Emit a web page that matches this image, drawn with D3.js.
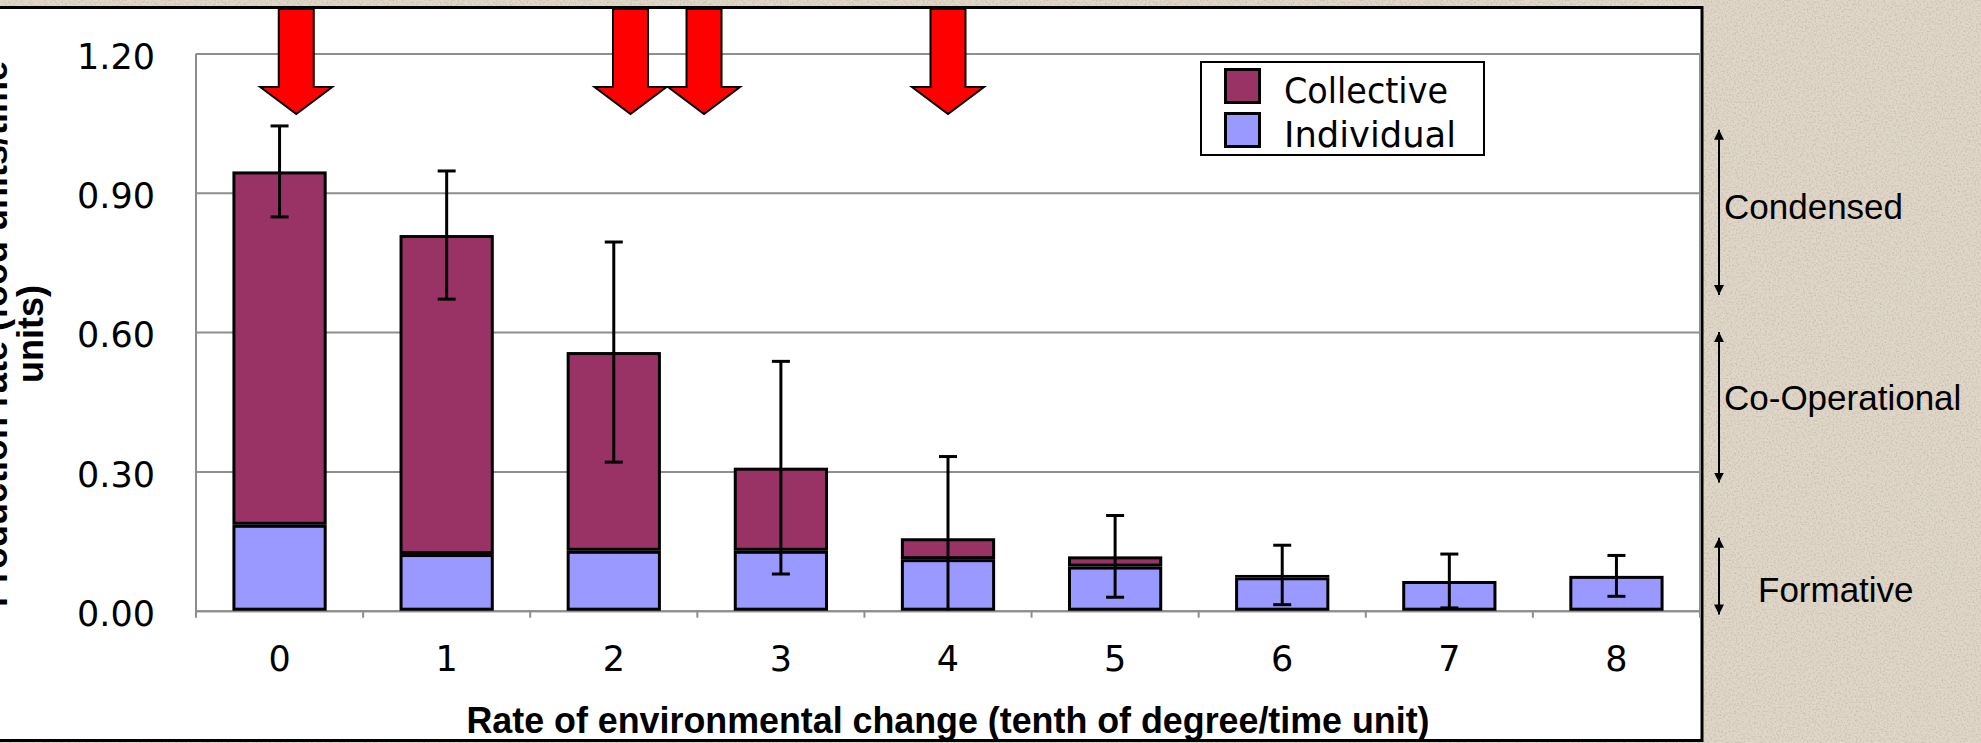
<!DOCTYPE html>
<html>
<head>
<meta charset="utf-8">
<script src="https://cdn.jsdelivr.net/npm/d3@7"></script>
<style>
  html, body { margin: 0; padding: 0; background: #ded5c6; }
  svg { display: block; }
</style>
</head>
<body>
<svg id="chart" width="1981" height="743"></svg>
<script>
// ---- data ----
const categories = ["0", "1", "2", "3", "4", "5", "6", "7", "8"];
const individual = [0.185, 0.122, 0.129, 0.129, 0.111, 0.095, 0.072, 0.064, 0.075];
const collective = [0.761, 0.687, 0.428, 0.179, 0.045, 0.022, 0.005, 0.000, 0.000];
const errorHalf  = [0.098, 0.138, 0.237, 0.229, 0.176, 0.088, 0.064, 0.058, 0.044];
const yTicks = [0.00, 0.30, 0.60, 0.90, 1.20];
const seriesNames = ["Collective", "Individual"];
const seriesColors = ["#993366", "#9999FF"];
const arrowPositions = [0.1, 2.1, 2.54, 4.0];        // in category units
const stageLabels = ["Condensed", "Co-Operational", "Formative"];
const stageTop    = [1.036, 0.600, 0.157];
const stageBottom = [0.680, 0.276, -0.008];
const xTitle = "Rate of environmental change (tenth of degree/time unit)";
const yTitleLines = ["Production rate (food units/time", "units)"];

// ---- layout ----
const svg = d3.select("#chart");
const plotLeft = 196, plotRight = 1700, plotTop = 53.5, plotBottom = 610.7;

const x = d3.scaleBand().domain(categories).range([plotLeft, plotRight])
  .paddingInner(0.436).paddingOuter(0.218);
const y = d3.scaleLinear().domain([0, 1.2]).range([plotBottom, plotTop]);
const xc = v => x(categories[0]) + x.bandwidth() / 2 + v * x.step();

const defs = svg.append("defs");

// textured beige background (paper-like speckle)
const tex = defs.append("filter").attr("id", "paper").attr("x", 0).attr("y", 0)
  .attr("width", "100%").attr("height", "100%");
tex.append("feTurbulence").attr("type", "fractalNoise").attr("baseFrequency", 0.55)
  .attr("numOctaves", 2).attr("seed", 3).attr("result", "noise");
tex.append("feColorMatrix").attr("in", "noise").attr("type", "matrix")
  .attr("values", "0 0 0 0 0.55  0 0 0 0 0.5  0 0 0 0 0.42  0 0 0 -2.2 1.25")
  .attr("result", "speck");
tex.append("feComposite").attr("in", "speck").attr("in2", "SourceGraphic").attr("operator", "atop");
svg.append("rect").attr("width", 1981).attr("height", 743).attr("fill", "#e0d7c8")
  .attr("filter", "url(#paper)");

// white chart area
svg.append("rect").attr("x", -10).attr("y", 7.5).attr("width", 1712).attr("height", 733)
  .attr("fill", "#fff").attr("stroke", "#000").attr("stroke-width", 3);

const gridColor = "#8e8e8e";

// y axis with gridlines
const yAxis = svg.append("g").attr("transform", `translate(${plotLeft},0)`)
  .call(d3.axisLeft(y).tickValues(yTicks).tickFormat(d3.format(".2f"))
    .tickSize(-(plotRight - plotLeft)).tickPadding(41));
yAxis.select(".domain").remove();
yAxis.selectAll(".tick line").attr("stroke", gridColor).attr("stroke-width", 2);
yAxis.selectAll(".tick text").attr("fill", "#000").attr("dy", "0.42em")
  .style("font-family", "'DejaVu Sans', Verdana, sans-serif").style("font-size", "35px");

// plot border: left, right
svg.append("line").attr("x1", plotLeft).attr("x2", plotLeft).attr("y1", plotTop).attr("y2", plotBottom + 1)
  .attr("stroke", gridColor).attr("stroke-width", 2);
svg.append("line").attr("x1", plotRight).attr("x2", plotRight).attr("y1", plotTop).attr("y2", plotBottom + 1)
  .attr("stroke", gridColor).attr("stroke-width", 2);

// x axis labels
const xAxis = svg.append("g").attr("transform", `translate(0,${plotBottom})`)
  .call(d3.axisBottom(x).tickSize(0).tickPadding(35));
xAxis.select(".domain").attr("stroke", gridColor).attr("stroke-width", 2);
xAxis.selectAll(".tick text").attr("fill", "#000")
  .style("font-family", "'DejaVu Sans', Verdana, sans-serif").style("font-size", "35px");

// x tick marks at category boundaries
svg.append("g").selectAll("line").data(d3.range(categories.length + 1)).join("line")
  .attr("x1", i => plotLeft + i * x.step()).attr("x2", i => plotLeft + i * x.step())
  .attr("y1", plotBottom).attr("y2", plotBottom + 7)
  .attr("stroke", gridColor).attr("stroke-width", 2);

// stacked bars (Individual bottom, Collective top), borders drawn inside
const rows = categories.map((c, i) => ({ c, Individual: individual[i], Collective: collective[i] }));
const stack = d3.stack().keys(["Individual", "Collective"])(rows);
const sw = 3;
const barG = svg.append("g");
stack.forEach(layer => {
  const color = layer.key === "Collective" ? seriesColors[0] : seriesColors[1];
  layer.forEach((seg, i) => {
    const x0 = x(categories[i]);
    const yTop = y(seg[1]), yBot = y(seg[0]);
    const h = yBot - yTop;
    if (h <= 0.01) return;
    if (h < sw * 2) {
      barG.append("rect").attr("x", x0).attr("y", yTop).attr("width", x.bandwidth())
        .attr("height", h).attr("fill", "#000");
    } else {
      barG.append("rect").attr("x", x0 + sw / 2).attr("y", yTop + sw / 2)
        .attr("width", x.bandwidth() - sw).attr("height", h - sw)
        .attr("fill", color).attr("stroke", "#000").attr("stroke-width", sw);
    }
  });
});

// error bars
const totals = categories.map((c, i) => individual[i] + collective[i]);
const errG = svg.append("g").attr("stroke", "#000").attr("stroke-width", 3);
categories.forEach((c, i) => {
  const cx = x(c) + x.bandwidth() / 2;
  const hi = totals[i] + errorHalf[i];
  const lo = Math.max(0, totals[i] - errorHalf[i]);
  errG.append("line").attr("x1", cx).attr("x2", cx).attr("y1", y(hi)).attr("y2", y(lo));
  errG.append("line").attr("x1", cx - 9).attr("x2", cx + 9).attr("y1", y(hi)).attr("y2", y(hi));
  if (totals[i] - errorHalf[i] > 0)
    errG.append("line").attr("x1", cx - 9).attr("x2", cx + 9).attr("y1", y(lo)).attr("y2", y(lo));
});

// red arrows
const shaftW = 35, headW = 72, shaftTop = 9, headY = 87, tipY = 114;
svg.append("g").selectAll("path").data(arrowPositions).join("path")
  .attr("d", v => {
    const cx = xc(v);
    return `M${cx - shaftW / 2},${shaftTop} L${cx + shaftW / 2},${shaftTop} L${cx + shaftW / 2},${headY}
            L${cx + headW / 2},${headY} L${cx},${tipY} L${cx - headW / 2},${headY}
            L${cx - shaftW / 2},${headY} Z`;
  })
  .attr("fill", "#ff0000").attr("stroke", "#000").attr("stroke-width", 2).attr("stroke-linejoin", "miter");

// legend
const lg = svg.append("g");
lg.append("rect").attr("x", 1201).attr("y", 62).attr("width", 283).attr("height", 93)
  .attr("fill", "#fff").attr("stroke", "#000").attr("stroke-width", 2);
const legendY = [68, 112];
const legendLen = [164, 172];
seriesNames.forEach((name, i) => {
  lg.append("rect").attr("x", 1224 + 1.5).attr("y", legendY[i] + 1.5).attr("width", 34).attr("height", 33)
    .attr("fill", seriesColors[i]).attr("stroke", "#000").attr("stroke-width", 3);
  lg.append("text").attr("x", 1284).attr("y", legendY[i] + 35)
    .attr("textLength", legendLen[i]).attr("lengthAdjust", "spacingAndGlyphs")
    .style("font-family", "'DejaVu Sans', Verdana, sans-serif").style("font-size", "35px")
    .attr("fill", "#000").text(name);
});

// stage annotations on the right
defs.append("marker").attr("id", "ah").attr("viewBox", "0 0 10 10").attr("refX", 10).attr("refY", 5)
  .attr("markerWidth", 5).attr("markerHeight", 5).attr("orient", "auto-start-reverse")
  .attr("markerUnits", "strokeWidth")
  .append("path").attr("d", "M0,0 L10,5 L0,10 Z").attr("fill", "#000");
const stageX = 1719;
const stageTextX = [1724, 1724, 1758];
const stageBaseline = [219, 410, 602];
stageLabels.forEach((lab, i) => {
  svg.append("line").attr("x1", stageX).attr("x2", stageX)
    .attr("y1", y(stageTop[i])).attr("y2", y(stageBottom[i]))
    .attr("stroke", "#000").attr("stroke-width", 2)
    .attr("marker-start", "url(#ah)").attr("marker-end", "url(#ah)");
  svg.append("text").attr("x", stageTextX[i]).attr("y", stageBaseline[i])
    .style("font-family", "'Liberation Sans', Arial, sans-serif").style("font-size", "35px")
    .attr("fill", "#000").text(lab);
});

// axis titles
svg.append("text").attr("x", (plotLeft + plotRight) / 2).attr("y", 733)
  .attr("text-anchor", "middle").attr("textLength", 963).attr("lengthAdjust", "spacingAndGlyphs")
  .style("font-family", "'Liberation Sans', Arial, sans-serif").style("font-size", "36px")
  .style("font-weight", "bold").attr("fill", "#000").text(xTitle);

// y title: the reference shows it partly cut off at the left edge of the picture
const yt = svg.append("g").attr("transform", "rotate(-90)");
const yTitleBase = [7, 43];
yTitleLines.forEach((line, i) => {
  yt.append("text").attr("x", -334).attr("y", yTitleBase[i]).attr("text-anchor", "middle")
    .style("font-family", "'Liberation Sans', Arial, sans-serif").style("font-size", "36px")
    .style("font-weight", "bold").attr("fill", "#000").text(line);
});
</script>
</body>
</html>
